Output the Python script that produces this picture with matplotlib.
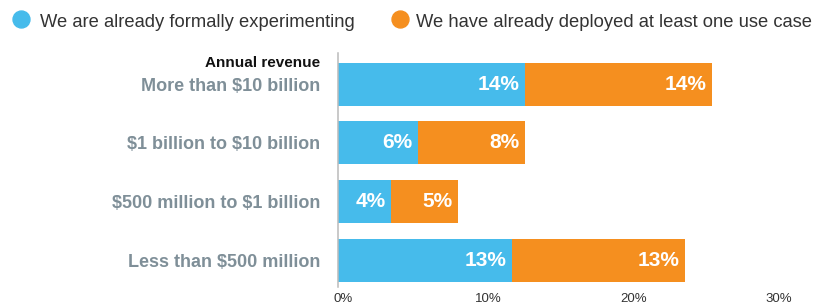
import matplotlib
matplotlib.use("Agg")
import matplotlib.pyplot as plt
from matplotlib.lines import Line2D

# survey data: share of companies by annual revenue band
categories = ["More than $10 billion", "$1 billion to $10 billion",
              "$500 million to $1 billion", "Less than $500 million"]
experimenting = [14, 6, 4, 13]
deployed = [14, 8, 5, 13]
series_names = ["We are already formally experimenting",
                "We have already deployed at least one use case"]
axis_ticks = [0, 10, 20, 30]

BLUE = "#46BBEB"
ORANGE = "#F58F1F"
GREY = "#7f8f98"
FONT = ["Liberation Sans", "DejaVu Sans"]
plt.rcParams["font.family"] = FONT
plt.rcParams["text.parse_math"] = False  # dollar signs are literal

W, H = 832, 305
fig = plt.figure(figsize=(W / 100, H / 100), dpi=100)
ax = fig.add_axes([338 / W, 18 / H, 461 / W, 234 / H])

y = list(range(len(categories)))
ax.barh(y, experimenting, height=0.73, color=BLUE, linewidth=0)
ax.barh(y, deployed, left=experimenting, height=0.73, color=ORANGE, linewidth=0)

# value labels, right aligned inside each segment
for i in y:
    ax.annotate(f"{experimenting[i]}%", (experimenting[i], i), xytext=(-4, 0),
                textcoords="offset points", ha="right", va="center",
                color="white", fontsize=15, fontweight="bold")
    total = experimenting[i] + deployed[i]
    ax.annotate(f"{deployed[i]}%", (total, i), xytext=(-4, 0),
                textcoords="offset points", ha="right", va="center",
                color="white", fontsize=15, fontweight="bold")

ax.set_xlim(0, 34.5)
ax.set_ylim(3.45, -0.53)
ax.set_yticks(y)
ax.set_yticklabels(categories, fontsize=13, fontweight="bold", color=GREY)
ax.tick_params(axis="y", length=0, pad=13)
ax.set_xticks([])
for side in ["top", "right", "bottom"]:
    ax.spines[side].set_visible(False)
ax.spines["left"].set_color("#bbbbbb")
ax.spines["left"].set_linewidth(1.1)

# the printed axis scale does not follow the bars exactly
sec = ax.secondary_xaxis("bottom", functions=(lambda v: (v - 0.37) / 1.088,
                                              lambda s: s * 1.088 + 0.37))
sec.set_xticks(axis_ticks)
sec.set_xticklabels([f"{t}%" for t in axis_ticks], fontsize=9.5, color="#333333")
sec.tick_params(length=0, pad=4.5)
sec.spines["bottom"].set_visible(False)

fig.text(320 / W, (H - 67) / H, "Annual revenue", ha="right", va="baseline",
         fontsize=11, fontweight="bold", color="#111111")

# legend drawn by hand along the top
for name, color, cx, tx in [(series_names[0], BLUE, 21, 40),
                            (series_names[1], ORANGE, 400, 416)]:
    fig.add_artist(Line2D([cx / W], [(H - 19) / H], marker="o", markersize=12.2,
                          color=color, linestyle="none", transform=fig.transFigure))
    fig.text(tx / W, (H - 27) / H, name, ha="left", va="baseline",
             fontsize=13.2, color="#333333")

plt.savefig("out.png", dpi=100)
